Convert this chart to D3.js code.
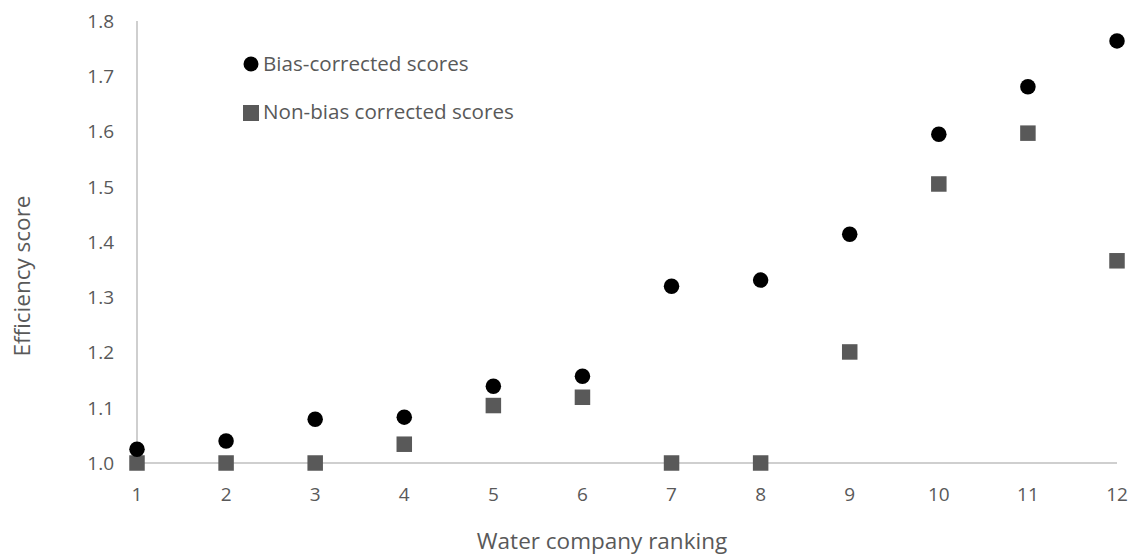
<!DOCTYPE html>
<html><head><meta charset="utf-8">
<script src="https://cdn.jsdelivr.net/npm/d3@7"></script>
<style>body{margin:0;background:#fff;font-family:"Open Sans","Noto Sans",sans-serif;}</style>
</head><body>
<svg id="c" width="1134" height="557"></svg>
<script>
const rankings = [1,2,3,4,5,6,7,8,9,10,11,12];
const biasCorrected = [1.025,1.040,1.079,1.083,1.139,1.157,1.320,1.331,1.414,1.595,1.681,1.764];
const nonBiasCorrected = [1.0,1.0,1.0,1.034,1.104,1.119,1.0,1.0,1.201,1.505,1.597,1.366];
const yTicks = [1.0,1.1,1.2,1.3,1.4,1.5,1.6,1.7,1.8];
const seriesNames = ["Bias-corrected scores","Non-bias corrected scores"];

const svg = d3.select("#c");
const x = d3.scaleLinear().domain([1,12]).range([137,1117]);
const y = d3.scaleLinear().domain([1.0,1.8]).range([463,21]);
const grey = "#595959";

// axes lines
svg.append("line").attr("x1",x(1)).attr("x2",x(1)).attr("y1",y(1.8)).attr("y2",y(1.0))
  .attr("stroke","#bfbfbf").attr("stroke-width",1.5);
svg.append("line").attr("x1",x(1)).attr("x2",x(12)).attr("y1",y(1.0)).attr("y2",y(1.0))
  .attr("stroke","#bfbfbf").attr("stroke-width",1.5);

// tick labels
svg.selectAll(".yt").data(yTicks).enter().append("text")
  .attr("x",114).attr("y",d=>y(d)).attr("dy","0.36em").attr("text-anchor","end")
  .attr("fill",grey).attr("font-size",19).text(d=>d.toFixed(1));
svg.selectAll(".xt").data(rankings).enter().append("text")
  .attr("x",d=>x(d)).attr("y",501).attr("text-anchor","middle")
  .attr("fill",grey).attr("font-size",19).text(d=>d);

// axis titles
svg.append("text").attr("x",602).attr("y",549).attr("text-anchor","middle")
  .attr("fill",grey).attr("font-size",22.5).text("Water company ranking");
svg.append("text").attr("transform","translate(30,276) rotate(-90)").attr("text-anchor","middle")
  .attr("fill",grey).attr("font-size",22.5).text("Efficiency score");

// points
svg.selectAll(".sq").data(rankings).enter().append("rect")
  .attr("x",(d,i)=>x(d)-7.75).attr("y",(d,i)=>y(nonBiasCorrected[i])-7.75)
  .attr("width",15.5).attr("height",15.5).attr("fill",grey);
svg.selectAll(".ci").data(rankings).enter().append("circle")
  .attr("cx",d=>x(d)).attr("cy",(d,i)=>y(biasCorrected[i])).attr("r",7.75).attr("fill","#000");

// legend
const lg = svg.append("g");
lg.append("circle").attr("cx",251).attr("cy",64).attr("r",7.5).attr("fill","#000");
lg.append("text").attr("x",263).attr("y",64).attr("dy","0.35em").attr("fill",grey)
  .attr("font-size",20.6).text(seriesNames[0]);
lg.append("rect").attr("x",243).attr("y",105).attr("width",16).attr("height",16).attr("fill",grey);
lg.append("text").attr("x",263).attr("y",112).attr("dy","0.35em").attr("fill",grey)
  .attr("font-size",20.6).text(seriesNames[1]);
</script>
</body></html>
